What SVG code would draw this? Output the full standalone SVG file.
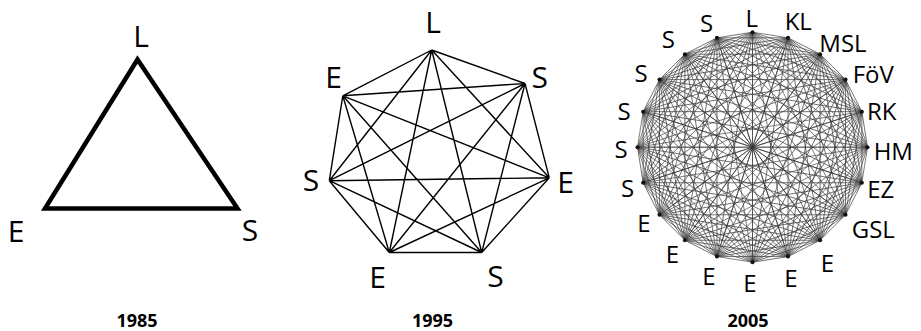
<svg xmlns="http://www.w3.org/2000/svg" xmlns:xlink="http://www.w3.org/1999/xlink" width="921" height="331" viewBox="0 0 921 331">
<style>
.lbl{font-family:"Open Sans","Liberation Sans",sans-serif;font-size:30px;fill:#000;text-anchor:middle}
.sm{font-family:"Open Sans","Liberation Sans",sans-serif;font-size:24px;fill:#000;text-anchor:middle}
.yr{font-family:"Open Sans","Liberation Sans",sans-serif;font-size:18px;font-weight:bold;fill:#000;text-anchor:middle}
.e7{stroke:#000;stroke-width:1.4;fill:none}
.e20{stroke:#3a3a3a;stroke-width:0.65;fill:none}
.dot{fill:#111}
</style>
<defs>
<path id="fan" class="e20" d="M752.5 32.2L788.04 37.83M752.5 32.2L820.1 54.16M752.5 32.2L845.54 79.6M752.5 32.2L861.87 111.66M752.5 32.2L867.5 147.2M752.5 32.2L861.87 182.74M752.5 32.2L845.54 214.8M752.5 32.2L820.1 240.24M752.5 32.2L788.04 256.57M752.5 32.2L752.5 262.2"/>
</defs>
<rect width="921" height="331" fill="#fff"/>

<!-- 1985 -->
<g id="connectors-1985">
<polygon points="137.5,59.5 237.5,208.5 45,208.5" fill="none" stroke="#000" stroke-width="4.5" stroke-linejoin="miter"/>
</g>
<g id="n85-L"><text class="lbl" x="141" y="47">L</text></g>
<g id="n85-E"><text class="lbl" x="16" y="242">E</text></g>
<g id="n85-S"><text class="lbl" x="250" y="241">S</text></g>
<text class="yr" x="137" y="327">1985</text>

<!-- 1995 -->
<g id="connectors-1995" class="e7">
<path d="M431.7 50L525 83.5M431.7 50L549.3 177.8M431.7 50L481.7 252.5M431.7 50L389.3 252.5M431.7 50L329.3 180.7M431.7 50L342.8 95.8
M525 83.5L549.3 177.8M525 83.5L481.7 252.5M525 83.5L389.3 252.5M525 83.5L329.3 180.7M525 83.5L342.8 95.8
M549.3 177.8L481.7 252.5M549.3 177.8L389.3 252.5M549.3 177.8L329.3 180.7M549.3 177.8L342.8 95.8
M481.7 252.5L389.3 252.5M481.7 252.5L329.3 180.7M481.7 252.5L342.8 95.8
M389.3 252.5L329.3 180.7M389.3 252.5L342.8 95.8
M329.3 180.7L342.8 95.8"/>
</g>
<g id="n95-L"><text class="lbl" x="433" y="33">L</text></g>
<g id="n95-S1"><text class="lbl" x="539.7" y="88">S</text></g>
<g id="n95-E1"><text class="lbl" x="565.5" y="193">E</text></g>
<g id="n95-S2"><text class="lbl" x="495.5" y="286.5">S</text></g>
<g id="n95-E2"><text class="lbl" x="377.5" y="288">E</text></g>
<g id="n95-S3"><text class="lbl" x="311" y="191">S</text></g>
<g id="n95-E3"><text class="lbl" x="333.5" y="88">E</text></g>
<text class="yr" x="432.5" y="327">1995</text>

<!-- 2005 -->
<g id="connectors-2005">
<use xlink:href="#fan"/>
<use xlink:href="#fan" transform="rotate(18 752.5 147.2)"/>
<use xlink:href="#fan" transform="rotate(36 752.5 147.2)"/>
<use xlink:href="#fan" transform="rotate(54 752.5 147.2)"/>
<use xlink:href="#fan" transform="rotate(72 752.5 147.2)"/>
<use xlink:href="#fan" transform="rotate(90 752.5 147.2)"/>
<use xlink:href="#fan" transform="rotate(108 752.5 147.2)"/>
<use xlink:href="#fan" transform="rotate(126 752.5 147.2)"/>
<use xlink:href="#fan" transform="rotate(144 752.5 147.2)"/>
<use xlink:href="#fan" transform="rotate(162 752.5 147.2)"/>
<use xlink:href="#fan" transform="rotate(180 752.5 147.2)"/>
<use xlink:href="#fan" transform="rotate(198 752.5 147.2)"/>
<use xlink:href="#fan" transform="rotate(216 752.5 147.2)"/>
<use xlink:href="#fan" transform="rotate(234 752.5 147.2)"/>
<use xlink:href="#fan" transform="rotate(252 752.5 147.2)"/>
<use xlink:href="#fan" transform="rotate(270 752.5 147.2)"/>
<use xlink:href="#fan" transform="rotate(288 752.5 147.2)"/>
<use xlink:href="#fan" transform="rotate(306 752.5 147.2)"/>
<use xlink:href="#fan" transform="rotate(324 752.5 147.2)"/>
<use xlink:href="#fan" transform="rotate(342 752.5 147.2)"/>
</g>
<g id="n05-L"><circle class="dot" cx="752.5" cy="32.2" r="2"/><text class="sm" x="751.7" y="26.7">L</text></g>
<g id="n05-KL"><circle class="dot" cx="788.04" cy="37.83" r="2"/><text class="sm" x="798.3" y="30">KL</text></g>
<g id="n05-MSL"><circle class="dot" cx="820.1" cy="54.16" r="2"/><text class="sm" x="843" y="51.7">MSL</text></g>
<g id="n05-FoV"><circle class="dot" cx="845.54" cy="79.6" r="2"/><text class="sm" x="873.3" y="83.3">FöV</text></g>
<g id="n05-RK"><circle class="dot" cx="861.87" cy="111.66" r="2"/><text class="sm" x="881.7" y="120">RK</text></g>
<g id="n05-HM"><circle class="dot" cx="867.5" cy="147.2" r="2"/><text class="sm" x="893.3" y="160">HM</text></g>
<g id="n05-EZ"><circle class="dot" cx="861.87" cy="182.74" r="2"/><text class="sm" x="880.8" y="198.3">EZ</text></g>
<g id="n05-GSL"><circle class="dot" cx="845.54" cy="214.8" r="2"/><text class="sm" x="873.3" y="238.3">GSL</text></g>
<g id="n05-E1"><circle class="dot" cx="820.1" cy="240.24" r="2"/><text class="sm" x="827.5" y="271.7">E</text></g>
<g id="n05-E2"><circle class="dot" cx="788.04" cy="256.57" r="2"/><text class="sm" x="790.8" y="286.7">E</text></g>
<g id="n05-E3"><circle class="dot" cx="752.5" cy="262.2" r="2"/><text class="sm" x="750" y="291.7">E</text></g>
<g id="n05-E4"><circle class="dot" cx="716.96" cy="256.57" r="2"/><text class="sm" x="709" y="285">E</text></g>
<g id="n05-E5"><circle class="dot" cx="684.9" cy="240.24" r="2"/><text class="sm" x="672.5" y="263.3">E</text></g>
<g id="n05-E6"><circle class="dot" cx="659.46" cy="214.8" r="2"/><text class="sm" x="644" y="231.7">E</text></g>
<g id="n05-S1"><circle class="dot" cx="643.13" cy="182.74" r="2"/><text class="sm" x="627.5" y="196.7">S</text></g>
<g id="n05-S2"><circle class="dot" cx="637.5" cy="147.2" r="2"/><text class="sm" x="621" y="158.3">S</text></g>
<g id="n05-S3"><circle class="dot" cx="643.13" cy="111.66" r="2"/><text class="sm" x="624" y="120">S</text></g>
<g id="n05-S4"><circle class="dot" cx="659.46" cy="79.6" r="2"/><text class="sm" x="641" y="81.7">S</text></g>
<g id="n05-S5"><circle class="dot" cx="684.9" cy="54.16" r="2"/><text class="sm" x="668.3" y="48.3">S</text></g>
<g id="n05-S6"><circle class="dot" cx="716.96" cy="37.83" r="2"/><text class="sm" x="706.7" y="31.7">S</text></g>
<text class="yr" x="748" y="327">2005</text>
</svg>
